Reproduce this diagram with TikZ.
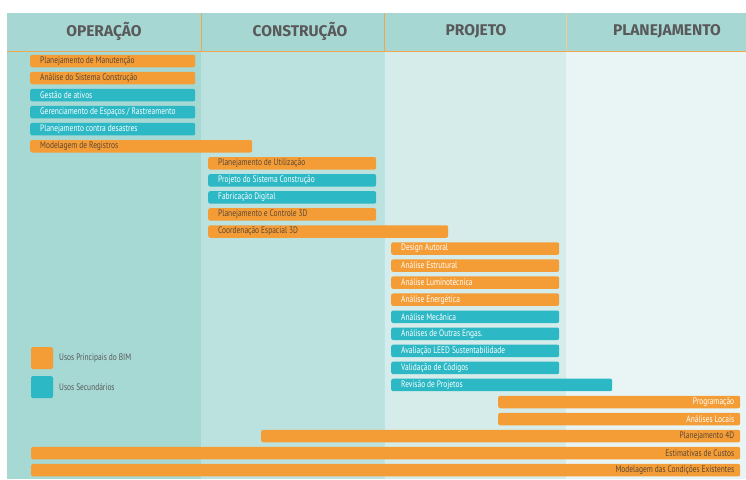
\documentclass[tikz,border=0pt]{standalone}
\usepackage{fontspec}
\setmainfont{Fira Sans}
\newfontfamily\barfont{PT Sans}[FakeStretch=0.79]
\definecolor{hdr}{HTML}{A7D7D3}
\definecolor{colA}{HTML}{A6D8D4}
\definecolor{colB}{HTML}{BCE2E0}
\definecolor{colC}{HTML}{D5ECEA}
\definecolor{colD}{HTML}{E9F5F4}
\definecolor{orng}{HTML}{F49D37}
\definecolor{teal}{HTML}{2DB8C5}
\definecolor{dtxt}{HTML}{5A4636}
\definecolor{htxt}{HTML}{595959}
\definecolor{divl}{HTML}{F0A850}
\tikzset{
  barbase/.style={rounded corners=2pt, minimum height=12.5pt, inner sep=0pt, anchor=west},
  bartxt/.style={font=\barfont\fontsize{9.4}{10}\selectfont, inner sep=0pt},
  obar/.style={barbase, fill=orng},
  tbar/.style={barbase, fill=teal},
  dt/.style={bartxt, text=dtxt},
  wt/.style={bartxt, text=white},
  hdtext/.style={font=\bfseries\fontsize{15.5}{17}\selectfont, text=htxt},
  legbox/.style={rounded corners=1.5pt, minimum width=22pt, minimum height=22pt, inner sep=0pt},
  legtext/.style={font=\barfont\fontsize{9.4}{10}\selectfont, text=htxt, anchor=west, inner sep=0pt},
}
% \lbar{name}{barstyle}{textstyle}{x1}{x2}{row}{text}
\newcommand\lbar[7]{%
  \pgfmathsetmacro\bw{#5-#4}%
  \pgfmathsetmacro\by{61+(#6-1)*17.05}%
  \node[#2, minimum width=\bw pt] (#1) at (#4,\by) {};
  \node[#3, anchor=west] (#1t) at ([xshift=10pt]#1.west) {#7};}
\newcommand\rbar[7]{%
  \pgfmathsetmacro\bw{#5-#4}%
  \pgfmathsetmacro\by{61+(#6-1)*17.05}%
  \node[#2, minimum width=\bw pt] (#1) at (#4,\by) {};
  \node[#3, anchor=east] (#1t) at ([xshift=-6pt]#1.east) {#7};}
\begin{document}
\begin{tikzpicture}[x=1pt,y=-1pt]
\useasboundingbox (0,0) rectangle (746,479);
\fill[white] (0,0) rectangle (746,479);
% column backgrounds
\fill[colA] (7,51) rectangle (201,479);
\fill[colB] (201,51) rectangle (384,479);
\fill[colC] (384,51) rectangle (566,479);
\fill[colD] (566,51) rectangle (746,479);
\draw[teal!35, line width=0.4pt] (384,51) -- (384,479);
% header
\fill[hdr] (7,13) rectangle (746,51);
\draw[divl, line width=0.6pt] (7,51) -- (746,51);
\draw[divl, line width=0.8pt] (201,13) -- (201,51);
\draw[divl, line width=0.8pt] (384,13) -- (384,51);
\draw[divl!60, line width=0.8pt] (566,13) -- (566,51);
\node[hdtext] (h1) at (104,31.5) {OPERAÇÃO};
\node[hdtext] (h2) at (300,31.5) {CONSTRUÇÃO};
\node[hdtext] (h3) at (476,31.5) {PROJETO};
\node[hdtext] (h4) at (667,31.5) {PLANEJAMENTO};
% operacao
\lbar{b1}{obar}{dt}{30}{195}{1}{Planejamento de Manutenção}
\lbar{b2}{obar}{dt}{30}{195}{2}{Análise do Sistema Construção}
\lbar{b3}{tbar}{wt}{30}{195}{3}{Gestão de ativos}
\lbar{b4}{tbar}{wt}{30}{195}{4}{Gerenciamento de Espaços / Rastreamento}
\lbar{b5}{tbar}{wt}{30}{195}{5}{Planejamento contra desastres}
\lbar{b6}{obar}{dt}{30}{252}{6}{Modelagem de Registros}
% construcao
\lbar{b7}{obar}{dt}{208}{376}{7}{Planejamento de Utilização}
\lbar{b8}{tbar}{wt}{208}{376}{8}{Projeto do Sistema Construção}
\lbar{b9}{tbar}{wt}{208}{376}{9}{Fabricação Digital}
\lbar{b10}{obar}{dt}{208}{376}{10}{Planejamento e Controle 3D}
\lbar{b11}{obar}{dt}{208}{448}{11}{Coordenação Espacial 3D}
% projeto
\lbar{b12}{obar}{wt}{391}{559}{12}{Design Autoral}
\lbar{b13}{obar}{wt}{391}{559}{13}{Análise Estrutural}
\lbar{b14}{obar}{wt}{391}{559}{14}{Análise Luminotécnica}
\lbar{b15}{obar}{wt}{391}{559}{15}{Análise Energética}
\lbar{b16}{tbar}{wt}{391}{559}{16}{Análise Mecânica}
\lbar{b17}{tbar}{wt}{391}{559}{17}{Análises de Outras Engas.}
\lbar{b18}{tbar}{wt}{391}{559}{18}{Avaliação LEED Sustentabilidade}
\lbar{b19}{tbar}{wt}{391}{559}{19}{Validação de Códigos}
\lbar{b20}{tbar}{wt}{391}{612}{20}{Revisão de Projetos}
% planejamento
\rbar{b21}{obar}{wt}{498}{740}{21}{Programação}
\rbar{b22}{obar}{wt}{498}{740}{22}{Análises Locais}
\rbar{b23}{obar}{dt}{261}{740}{23}{Planejamento 4D}
\rbar{b24}{obar}{dt}{31}{740}{24}{Estimativas de Custos}
\rbar{b25}{obar}{dt}{31}{740}{25}{Modelagem das Condições Existentes}
% legend
\node[legbox, fill=orng] (l1) at (42,358) {};
\node[legbox, fill=teal] (l2) at (42,387) {};
\node[legtext] (lt1) at (59,358) {Usos Principais do BIM};
\node[legtext] (lt2) at (59,387) {Usos Secundários};
\end{tikzpicture}
\end{document}
